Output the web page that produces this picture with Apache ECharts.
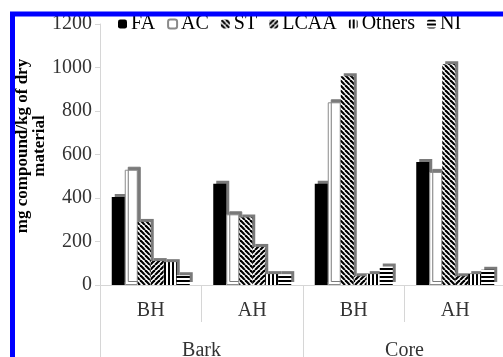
<!DOCTYPE html>
<html>
<head>
<meta charset="utf-8">
<script src="https://cdn.jsdelivr.net/npm/echarts@6/dist/echarts.min.js"></script>
<style>
  html, body { margin: 0; padding: 0; background: #fff; }
  #chart { width: 503px; height: 357px; }
</style>
</head>
<body>
<div id="chart"></div>
<script>
// Sample positions and harvest stages
const harvests = ['BH', 'AH', 'BH', 'AH'];
const parts = ['Bark', 'Core'];
const yTicks = [0, 200, 400, 600, 800, 1000, 1200];

// mg compound / kg of dry material
const FA = [405, 465, 465, 565];
const AC = [530, 325, 840, 520];
const ST = [290, 310, 960, 1015];
const LCAA = [110, 175, 40, 40];
const Others = [105, 50, 50, 50];
const NI = [45, 50, 85, 70];

const serif = "'Liberation Serif', 'Times New Roman', serif";

// Monochrome fill patterns
function pattern(size, draw) {
  const c = document.createElement('canvas');
  c.width = size; c.height = size;
  const ctx = c.getContext('2d');
  ctx.fillStyle = '#fff';
  ctx.fillRect(0, 0, size, size);
  ctx.fillStyle = '#000';
  ctx.strokeStyle = '#000';
  draw(ctx, size);
  return { image: c, repeat: 'repeat' };
}
function diag(ctx, s, down) {
  ctx.lineWidth = 2.2;
  for (let k = -s; k <= s; k += s) {
    ctx.beginPath();
    if (down) { ctx.moveTo(k, 0); ctx.lineTo(k + s, s); }
    else { ctx.moveTo(k, s); ctx.lineTo(k + s, 0); }
    ctx.stroke();
  }
}
const stFill = pattern(5, (ctx, s) => diag(ctx, s, true));
const lcaaFill = pattern(5, (ctx, s) => diag(ctx, s, false));
const othersFill = pattern(4, (ctx, s) => ctx.fillRect(0, 0, 2, s));
const niFill = pattern(4, (ctx, s) => ctx.fillRect(0, 0, s, 2));

// Offset grey copy behind each bar gives a shallow 3-D look
const depth = { shadowColor: '#7a7a7a', shadowOffsetX: 3, shadowOffsetY: -3, shadowBlur: 0 };

function bar(name, data, style) {
  return {
    name, type: 'bar', data,
    xAxisIndex: 0,
    barWidth: 13,
    barGap: '0%',
    itemStyle: Object.assign({}, depth, style),
    emphasis: { disabled: true }
  };
}

const chart = echarts.init(document.getElementById('chart'), null, { renderer: 'canvas' });
chart.setOption({
  animation: false,
  backgroundColor: '#fff',
  grid: { left: 100, right: -3, top: 24, bottom: 72, containLabel: false, outerBoundsMode: 'none' },
  legend: {
    top: 14, left: 118, padding: 0,
    itemWidth: 9, itemHeight: 9, itemGap: 12,
    textStyle: { fontFamily: serif, fontSize: 20, color: '#000', padding: [0, 0, 0, -1] },
    itemStyle: { shadowColor: 'rgba(0,0,0,0)', shadowOffsetX: 0, shadowOffsetY: 0 },
    data: ['FA', 'AC', 'ST', 'LCAA', 'Others', 'NI']
  },
  xAxis: [
    {
      type: 'category', data: harvests, position: 'bottom',
      axisLine: { show: true, lineStyle: { color: '#d6d6d6', width: 1 } },
      axisTick: { show: true, interval: 0, length: 37, lineStyle: { color: '#d6d6d6' } },
      axisLabel: { fontFamily: serif, fontSize: 20, color: '#333', margin: 16 }
    },
    {
      type: 'category', data: parts, position: 'bottom', offset: 0,
      axisLine: { show: false },
      axisTick: { show: true, interval: 0, length: 72, lineStyle: { color: '#d6d6d6' } },
      axisLabel: { fontFamily: serif, fontSize: 20, color: '#333', margin: 56 }
    }
  ],
  yAxis: {
    type: 'value', min: yTicks[0], max: yTicks[yTicks.length - 1], interval: 200,
    axisLine: { show: true, lineStyle: { color: '#d6d6d6' } },
    axisTick: { show: true, length: 5, lineStyle: { color: '#d6d6d6' } },
    splitLine: { show: false },
    axisLabel: { fontFamily: serif, fontSize: 20, color: '#333', margin: 8, formatter: v => String(v) }
  },
  series: [
    bar('FA', FA, { color: '#000' }),
    bar('AC', AC, { color: '#fff', borderColor: '#8a8a8a', borderWidth: 1 }),
    bar('ST', ST, { color: stFill }),
    bar('LCAA', LCAA, { color: lcaaFill }),
    bar('Others', Others, { color: othersFill }),
    bar('NI', NI, { color: niFill })
  ],
  graphic: [
    {
      type: 'text', x: 31.5, y: 146, rotation: Math.PI / 2,
      style: {
        text: 'mg compound/kg of dry\nmaterial',
        font: 'bold 17px ' + serif, fill: '#000',
        align: 'center', verticalAlign: 'middle', lineHeight: 17
      }
    },
    {
      type: 'rect', z: 100,
      shape: { x: 12.5, y: 14, width: 700, height: 500 },
      style: { fill: 'none', stroke: '#0000ff', lineWidth: 5 }
    }
  ]
});
</script>
</body>
</html>
